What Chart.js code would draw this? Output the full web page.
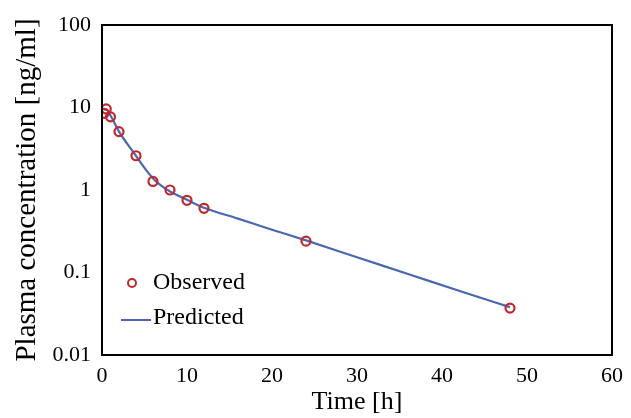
<!DOCTYPE html>
<html>
<head>
<meta charset="utf-8">
<script src="https://cdn.jsdelivr.net/npm/chart.js@4/dist/chart.umd.min.js"></script>
<style>
  html, body { margin: 0; padding: 0; background: #fff; }
  #wrap { width: 631px; height: 418px; }
</style>
</head>
<body>
<div id="wrap"><canvas id="pk"></canvas></div>
<script>
// observed samples
const obsTime = [0.25, 0.5, 1, 2, 4, 6, 8, 10, 12, 24, 48];
const obsConc = [8.5, 9.6, 7.7, 5.1, 2.6, 1.27, 1.0, 0.75, 0.60, 0.24, 0.037];

// predicted curve
const predTime = [0.25, 0.5, 1, 1.5, 2, 3, 4, 5, 6, 7, 8, 9, 10, 12, 16, 20, 24, 30, 36, 42, 48];
const predConc = [9.4, 9.5, 8.0, 6.4, 5.1, 3.6, 2.6, 1.85, 1.38, 1.12, 0.96, 0.85, 0.76, 0.61, 0.45, 0.33, 0.245, 0.153, 0.096, 0.060, 0.038];

const yTicks = [0.01, 0.1, 1, 10, 100];
const xTicks = [0, 10, 20, 30, 40, 50, 60];

const serif = 'Liberation Serif';
const red = '#c0282d';
const blue = '#4a67b0';

function pts(xs, ys) {
    return xs.map(function (x, i) { return {x: x, y: ys[i]}; });
}

const framePlugin = {
    id: 'frame',
    afterDraw: function (chart) {
        const a = chart.chartArea;
        const ctx = chart.ctx;
        ctx.save();
        ctx.strokeStyle = '#000';
        ctx.lineWidth = 2;
        ctx.strokeRect(a.left, a.top, a.right - a.left, a.bottom - a.top);

        // legend inside the plot
        const ds = chart.data.datasets;
        ctx.font = '24px "' + serif + '"';
        ctx.fillStyle = '#000';
        ctx.textBaseline = 'middle';
        ctx.textAlign = 'left';
        ctx.beginPath();
        ctx.lineWidth = 2;
        ctx.strokeStyle = ds[0].borderColor;
        ctx.arc(132, 283, 4, 0, Math.PI * 2);
        ctx.stroke();
        ctx.fillText(ds[0].label, 153, 283);
        ctx.beginPath();
        ctx.strokeStyle = ds[1].borderColor;
        ctx.moveTo(121, 320);
        ctx.lineTo(151, 320);
        ctx.stroke();
        ctx.fillText(ds[1].label, 153, 318);
        ctx.restore();
    }
};

new Chart(document.getElementById('pk').getContext('2d'), {
    type: 'scatter',
    data: {
        datasets: [{
            label: 'Observed',
            data: pts(obsTime, obsConc),
            borderColor: red,
            backgroundColor: 'rgba(255,255,255,0)',
            borderWidth: 2.2,
            pointRadius: 4.5,
            order: 0
        }, {
            label: 'Predicted',
            data: pts(predTime, predConc),
            showLine: true,
            borderColor: blue,
            borderWidth: 2.2,
            pointRadius: 0,
            cubicInterpolationMode: 'monotone',
            order: 1
        }]
    },
    options: {
        responsive: true,
        maintainAspectRatio: false,
        animation: false,
        layout: { padding: { top: 25, right: 16, left: 0, bottom: 0 } },
        plugins: {
            legend: { display: false },
            tooltip: { enabled: false }
        },
        scales: {
            x: {
                type: 'linear',
                min: 0,
                max: 60,
                grid: { display: false, drawTicks: false },
                border: { display: false },
                afterBuildTicks: function (s) { s.ticks = xTicks.map(function (v) { return {value: v}; }); },
                ticks: { color: '#000', padding: 8, maxRotation: 0, font: { family: serif, size: 22 } },
                title: { display: true, text: 'Time [h]', color: '#000', padding: { top: -2, bottom: 0 }, font: { family: serif, size: 26 } },
                afterFit: function (s) { s.height = 63; }
            },
            y: {
                type: 'logarithmic',
                min: 0.01,
                max: 100,
                grid: { display: false, drawTicks: false },
                border: { display: false },
                afterBuildTicks: function (s) { s.ticks = yTicks.map(function (v) { return {value: v}; }); },
                ticks: {
                    color: '#000',
                    padding: 11,
                    font: { family: serif, size: 22 },
                    callback: function (v) { return String(v); }
                },
                title: { display: true, text: 'Plasma concentration [ng/ml]', color: '#000', padding: { top: 10, bottom: 0 }, font: { family: serif, size: 29 } },
                afterFit: function (s) { s.width = 102; }
            }
        }
    },
    plugins: [framePlugin]
});
</script>
</body>
</html>
